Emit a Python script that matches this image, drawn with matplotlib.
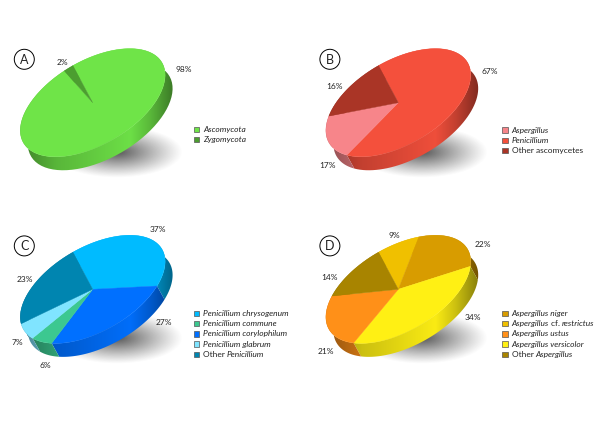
import numpy as np
import matplotlib
matplotlib.use('Agg')
import matplotlib.pyplot as plt
from matplotlib.patches import Polygon, Circle, Rectangle

plt.rcParams['font.family'] = ['Lato', 'DejaVu Sans']

# values in drawing order (clockwise from the top of the disc)
a_values = [98, 2]
a_colors = ['#6fe448', '#4c9e30']
a_legend = ['Ascomycota', 'Zygomycota']
a_legend_colors = ['#6fe448', '#4c9e30']

b_values = [67, 17, 16]
b_colors = ['#f4503c', '#f7858a', '#aa3526']
b_legend = ['Aspergillus', 'Penicillium', 'Other ascomycetes']
b_legend_colors = ['#f7858a', '#f4503c', '#aa3526']

c_values = [37, 27, 6, 7, 23]
c_colors = ['#00bbff', '#0070ff', '#3cc890', '#80e4ff', '#0085b0']
c_legend = ['Penicillium chrysogenum', 'Penicillium commune', 'Penicillium corylophilum',
            'Penicillium glabrum', 'Other Penicillium']
c_legend_colors = ['#00bbff', '#3cc890', '#0070ff', '#80e4ff', '#0085b0']

d_values = [9, 22, 34, 21, 14]
d_colors = ['#f0c000', '#d89c00', '#fff014', '#ff9018', '#a88400']
d_legend = ['Aspergillus niger', 'Aspergillus cf. restrictus', 'Aspergillus ustus',
            'Aspergillus versicolor', 'Other Aspergillus']
d_legend_colors = ['#d89c00', '#f0c000', '#ff9018', '#fff014', '#a88400']

# label positions, pixels
a_label_pos = [(183.3, 69), (62.7, 62.3)]
b_label_pos = [(489.7, 71.3), (327.3, 166), (335, 86.7)]
c_label_pos = [(157.7, 229), (164, 322.7), (45.7, 366), (17.3, 342.7), (25.3, 279.3)]
d_label_pos = [(394, 236), (482.7, 244.3), (473.3, 317), (326, 351.7), (329.3, 277.3)]

SEMI_A = 80
SEMI_B = 42
TILT = np.radians(30)
DEPTH_X = 7.5
DEPTH_Y = 13.5
START = 89
FONT = 6.0
TEXT_COLOR = '#222222'


def disc_points(cx, cy, t):
    x = cx + SEMI_A * np.cos(t) * np.cos(TILT) - SEMI_B * np.sin(t) * np.sin(TILT)
    y = cy - (SEMI_A * np.cos(t) * np.sin(TILT) + SEMI_B * np.sin(t) * np.cos(TILT))
    return x, y


def draw_shadow(ax, cx, cy):
    # soft grey blob under the lower right of the pie
    gx, gy = np.meshgrid(np.linspace(-68, 68, 200), np.linspace(-28, 28, 90))
    r = np.sqrt((gx / 66) ** 2 + (gy / 26) ** 2)
    alpha = np.clip(1 - r, 0, 1) ** 1.1 * 0.85
    rgba = np.zeros((90, 200, 4))
    rgba[..., :3] = 0.22
    rgba[..., 3] = alpha
    ax.imshow(rgba, extent=(cx + 24 - 68, cx + 24 + 68, cy + 49 + 28, cy + 49 - 28),
              aspect='auto', zorder=1)


def draw_pie(ax, cx, cy, values, colors):
    draw_shadow(ax, cx, cy)
    angles = START - np.concatenate([[0], np.cumsum(values)]) / np.sum(values) * 360
    left = cx - 76
    right = cx + 82
    # shading of the rim along x
    pos = np.linspace(0, 1, 120)
    shade = np.interp(pos, [0, 0.25, 0.72, 0.85, 1], [0.55, 0.8, 0.98, 0.8, 0.52])
    for i, color in enumerate(colors):
        t = np.radians(np.linspace(angles[i], angles[i + 1], 80))
        x, y = disc_points(cx, cy, t)
        # rim: arc and the same arc pushed down
        rim = np.column_stack([np.r_[x, x[::-1] + DEPTH_X], np.r_[y, y[::-1] + DEPTH_Y]])
        rgba = np.ones((1, 120, 4))
        rgba[0, :, :3] = np.outer(shade, matplotlib.colors.to_rgb(color))
        im = ax.imshow(rgba, extent=(left, right, cy + 90, cy - 90), aspect='auto',
                       interpolation='bilinear', zorder=2)
        clip = Polygon(rim, closed=True, transform=ax.transData)
        im.set_clip_path(clip)
    for i, color in enumerate(colors):
        t = np.radians(np.linspace(angles[i], angles[i + 1], 200))
        x, y = disc_points(cx, cy, t)
        top = np.column_stack([np.r_[cx, x], np.r_[cy, y]])
        ax.add_patch(Polygon(top, closed=True, facecolor=color, edgecolor=color, lw=0.3, zorder=3))


def legend_text(ax, x, y, label):
    # genus names in italics, the rest upright
    if label == 'Other ascomycetes':
        ax.text(x, y, label, fontsize=FONT, va='center', color=TEXT_COLOR)
    elif label.startswith('Other '):
        t = ax.text(x, y, 'Other ', fontsize=FONT, va='center', color=TEXT_COLOR)
        ax.annotate(label[6:], xy=(1, 0.5), xycoords=t, fontsize=FONT, va='center',
                    style='italic', color=TEXT_COLOR)
    elif ' cf. ' in label:
        head, tail = label.split(' cf. ')
        t = ax.text(x, y, head + ' ', fontsize=FONT, va='center', style='italic', color=TEXT_COLOR)
        t2 = ax.annotate('cf. ', xy=(1, 0.5), xycoords=t, fontsize=FONT, va='center', color=TEXT_COLOR)
        ax.annotate(tail, xy=(1, 0.5), xycoords=t2, fontsize=FONT, va='center', style='italic',
                    color=TEXT_COLOR)
    else:
        ax.text(x, y, label, fontsize=FONT, va='center', style='italic', color=TEXT_COLOR)


def draw_legend(ax, x, y0, labels, colors):
    for i, (label, color) in enumerate(zip(labels, colors)):
        y = y0 + i * 10.25
        ax.add_patch(Rectangle((x, y - 2.7), 5.4, 5.4, facecolor=color, edgecolor='#555555',
                               lw=0.5, zorder=4))
        legend_text(ax, x + 9.5, y, label)


def draw_panel(ax, letter, cx, cy, lx, ly, values, colors, legend, legend_colors, label_pos):
    draw_pie(ax, cx, cy, values, colors)
    for value, (px, py) in zip(values, label_pos):
        ax.text(px, py, '%d%%' % value, fontsize=FONT, ha='center', va='center', color=TEXT_COLOR)
    draw_legend(ax, lx, ly, legend, legend_colors)
    ax.add_patch(Circle((cx - 68.4, cy - 43.4), 10, facecolor='white', edgecolor='black', lw=0.7, zorder=4))
    ax.text(cx - 68.4, cy - 43.2, letter, fontsize=9, ha='center', va='center', color=TEXT_COLOR, zorder=5)


fig = plt.figure(figsize=(6, 4.24), dpi=100)
ax = fig.add_axes([0, 0, 1, 1])

draw_panel(ax, 'A', 92.7, 102.7, 193.5, 129.5, a_values, a_colors, a_legend, a_legend_colors, a_label_pos)
draw_panel(ax, 'B', 398.3, 102.7, 502.2, 130, b_values, b_colors, b_legend, b_legend_colors, b_label_pos)
draw_panel(ax, 'C', 92.7, 289.3, 193.5, 313.3, c_values, c_colors, c_legend, c_legend_colors, c_label_pos)
draw_panel(ax, 'D', 398.3, 289.3, 502.2, 313.3, d_values, d_colors, d_legend, d_legend_colors, d_label_pos)

ax.set_xlim(0, 600)
ax.set_ylim(424, 0)
ax.axis('off')
fig.savefig('out.png', dpi=100)
